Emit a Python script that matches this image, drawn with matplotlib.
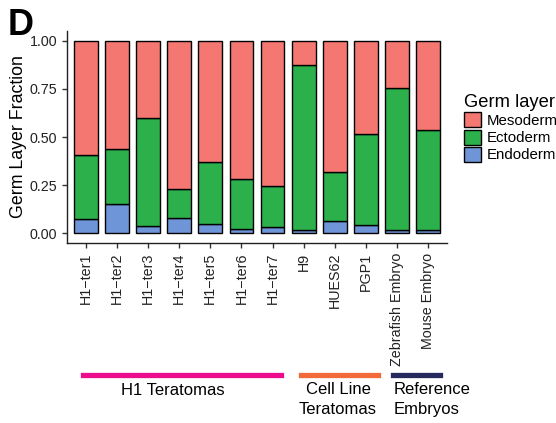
import matplotlib.pyplot as plt
import numpy as np
from matplotlib.patches import Patch

plt.rcParams["font.family"] = ["Liberation Sans", "DejaVu Sans"]

samples = ["H1\u2212ter1", "H1\u2212ter2", "H1\u2212ter3", "H1\u2212ter4", "H1\u2212ter5",
           "H1\u2212ter6", "H1\u2212ter7", "H9", "HUES62", "PGP1",
           "Zebrafish Embryo", "Mouse Embryo"]
endoderm = [0.076, 0.152, 0.038, 0.081, 0.050, 0.021, 0.031, 0.017, 0.062, 0.042, 0.017, 0.017]
ectoderm_top = [0.407, 0.440, 0.598, 0.232, 0.369, 0.284, 0.248, 0.875, 0.317, 0.516, 0.754, 0.536]
layers = ["Mesoderm", "Ectoderm", "Endoderm"]
colors = {"Mesoderm": "#F47771", "Ectoderm": "#2CB04C", "Endoderm": "#6E95D8"}

groups = ["H1 Teratomas", "Cell Line\nTeratomas", "Reference\nEmbryos"]
group_colors = ["#EC0C8C", "#F26A3A", "#25295E"]

endo = np.array(endoderm)
ecto = np.array(ectoderm_top) - endo
meso = 1 - np.array(ectoderm_top)

W, H = 556, 423
fig = plt.figure(figsize=(W / 100, H / 100), dpi=100)
ax = fig.add_axes([67 / W, (H - 243) / H, (447 - 67) / W, (243 - 31) / H])

x = np.arange(1, len(samples) + 1)
bw = 0.76
ax.bar(x, endo, bw, color=colors["Endoderm"], edgecolor="black", linewidth=1)
ax.bar(x, ecto, bw, bottom=endo, color=colors["Ectoderm"], edgecolor="black", linewidth=1)
ax.bar(x, meso, bw, bottom=endo + ecto, color=colors["Mesoderm"], edgecolor="black", linewidth=1)

ax.set_xlim(0.4, len(samples) + 0.6)
ax.set_ylim(-0.05, 1.05)
ax.set_yticks([0, 0.25, 0.5, 0.75, 1.0])
ax.set_yticklabels(["0.00", "0.25", "0.50", "0.75", "1.00"])
ax.set_xticks(x)
ax.set_xticklabels(samples, rotation=90)
ax.tick_params(axis="both", labelsize=10.3, colors="#333333", labelcolor="#222222", length=3.5, width=1)
for s in ["top", "right"]:
    ax.spines[s].set_visible(False)
for s in ["left", "bottom"]:
    ax.spines[s].set_color("#222222")
    ax.spines[s].set_linewidth(1)
ax.set_ylabel("Germ Layer Fraction", fontsize=12.8, labelpad=2)

handles = [Patch(facecolor=colors[l], edgecolor="black", linewidth=1) for l in layers]
leg = fig.legend(handles, layers, loc="upper left", bbox_to_anchor=(450 / W, (H - 80) / H),
                 frameon=False, fontsize=10.8, title="Germ layer", title_fontsize=13.2,
                 handlelength=1.15, handleheight=1.15, labelspacing=0.12, handletextpad=0.4,
                 alignment="left")

# group annotations under the axis
spans = [(83, 281), (301, 378), (393, 440)]
for (x0, x1), c in zip(spans, group_colors):
    fig.add_artist(plt.Line2D([x0 / W, x1 / W], [(H - 375) / H] * 2, color=c, linewidth=3.8))
fig.text(173 / W, (H - 390) / H, groups[0], ha="center", va="center", fontsize=12)
fig.text(338 / W, (H - 382) / H, groups[1], ha="center", va="top", fontsize=12, linespacing=1.4)
fig.text(394 / W, (H - 382) / H, groups[2], ha="left", va="top", fontsize=12, linespacing=1.4)

fig.text(8 / W, (H - 8) / H, "D", fontsize=26, fontweight="bold", ha="left", va="top")

fig.savefig("out.png", dpi=100)
